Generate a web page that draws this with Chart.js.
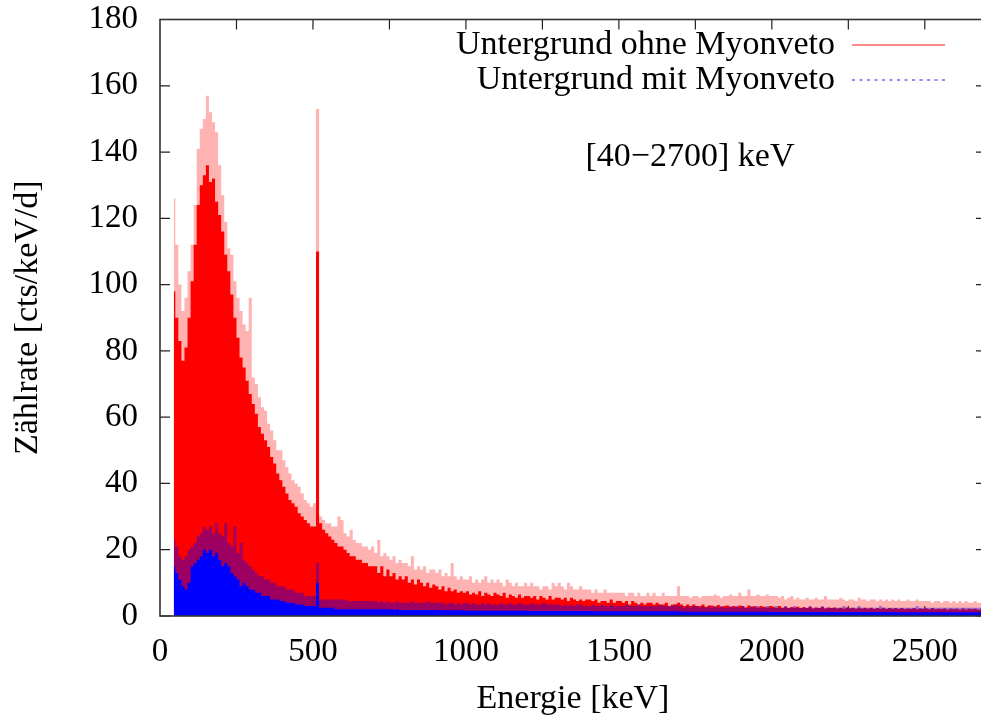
<!DOCTYPE html>
<html>
<head>
<meta charset="utf-8">
<script src="https://cdn.jsdelivr.net/npm/chart.js@4.4.0/dist/chart.umd.min.js"></script>
<style>
  html, body { margin: 0; padding: 0; overflow: hidden; background: #fff; }
</style>
</head>
<body>
<canvas id="spektrum" width="1000" height="720"></canvas>
<script>
// Untergrundspektrum, 10-keV-Bins von 40 bis 2700 keV
const binStart = 40;
const binWidth = 10;

const xTickValues = [0, 500, 1000, 1500, 2000, 2500];
const xFrameTicks = [250, 500, 750, 1000, 1250, 1500, 1750, 2000, 2250, 2500];
const yTickValues = [0, 20, 40, 60, 80, 100, 120, 140, 160, 180];

const seriesLabels = ['Untergrund ohne Myonveto', 'Untergrund mit Myonveto'];
const rangeNote = '[40\u22122700] keV';

// ohne Myonveto: dichter Kern
const redCore = [
  98, 90, 83, 77, 81, 90,                                   // 40
  101, 112, 124, 130, 133, 136, 131, 132, 125, 121,         // 100
  116, 109, 104, 97, 90, 84, 78, 75, 71, 67,                // 200
  64, 61, 57, 55, 53, 51, 48, 46, 43, 41,                   // 300
  39, 37, 35, 34, 33, 31, 30, 29, 28, 27,                   // 400
  27, 110, 28, 26, 25, 24, 23, 22, 21, 21,                  // 500
  20, 19, 18, 18, 17, 17, 16, 16, 15, 15,                   // 600
  15, 13, 15, 12, 14, 12, 13, 11, 12, 11,                   // 700
  12, 10, 11, 9.5, 11, 10, 9, 10, 8.5, 9.5,                 // 800
  9, 8, 9, 7.5, 8.5, 7.5, 8, 7, 7.5, 7,                     // 900
  7.5, 6.5, 7, 6.5, 7.5, 6, 7, 6.5, 6, 7,                   // 1000
  6.5, 6, 7, 5.5, 6.5, 6, 5.5, 6.5, 5.5, 6,                 // 1100
  6, 5.5, 6, 5, 6, 5.5, 5, 6, 5, 5.5,                       // 1200
  5.5, 5, 5.5, 4.5, 5.5, 5, 4.5, 5, 4.5, 5,                 // 1300
  5, 4.5, 5, 4, 4.5, 4.5, 4, 5, 4, 4.5,                     // 1400
  4.5, 4, 4.5, 3.5, 4.5, 4, 3.5, 4, 3.5, 4,                 // 1500
  4, 3.5, 4, 3.5, 3.5, 4, 3, 3.5, 3.5, 4,                   // 1600
  3.5, 3, 3.5, 3, 3.5, 3, 3, 3.5, 2.8, 3.2,                 // 1700
  3.2, 2.8, 3.3, 2.8, 3, 3.2, 2.7, 3, 2.8, 3.2,             // 1800
  3, 2.6, 3.2, 2.7, 3, 2.6, 3, 2.8, 2.6, 3,                 // 1900
  2.8, 2.5, 3, 2.5, 2.8, 2.4, 2.7, 2.5, 2.8, 2.4,           // 2000
  2.7, 2.4, 2.8, 2.3, 2.6, 2.4, 2.7, 2.3, 2.6, 2.4,         // 2100
  2.6, 2.3, 2.5, 2.2, 2.6, 2.3, 2.5, 2.2, 2.5, 2.3,         // 2200
  2.5, 2.2, 2.5, 2.1, 2.4, 2.2, 2.5, 2.1, 2.4, 2.2,         // 2300
  2.4, 2.1, 2.4, 2, 2.3, 2.1, 2.4, 2, 2.3, 2.1,             // 2400
  2.3, 2, 2.4, 2, 2.2, 2, 2.3, 1.9, 2.2, 2,                 // 2500
  2.2, 1.9, 2.3, 1.9, 2.2, 2, 2.2, 1.9, 2.1, 2              // 2600
];

// ohne Myonveto: einzelne Spitzen (heller Saum)
const redPeak = [
  126, 112, 100, 92, 96, 104,                               // 40
  112, 124, 141, 147, 150, 157, 152, 149, 146, 136,         // 100
  127, 119, 111, 109, 101, 96, 92, 88, 86, 96,              // 200
  72, 70, 66, 63, 62, 58, 56, 53, 50, 50,                   // 300
  47, 45, 43, 41, 40, 39, 37, 35, 34, 33,                   // 400
  34, 153, 30, 29, 28, 28, 27, 27, 30, 29,                  // 500
  25, 24, 26, 23, 22, 22, 21, 21, 20, 21,                   // 600
  19, 23, 18, 19, 18, 17, 18, 16, 17, 16,                   // 700
  16, 15, 18, 14, 15, 14, 15, 13, 14, 14,                   // 800
  13, 14, 12, 13, 12, 16, 12, 11, 12, 11,                   // 900
  11, 12, 10, 11, 10, 11, 12, 10, 11, 10,                   // 1000
  11, 10, 9, 11, 10, 9, 10, 9, 9, 10,                       // 1100
  9, 10, 9, 9, 8, 9, 9, 8, 10, 9,                           // 1200
  10, 9, 8, 10, 9, 8, 8, 9, 8, 8,                           // 1300
  8, 7, 8, 7, 7, 8, 7, 7, 7, 7,                             // 1400
  7, 7, 6, 7, 7, 6, 7, 6, 6, 7,                             // 1500
  6, 7, 6, 6, 7, 6, 6, 6, 6, 9,                             // 1600
  6, 6, 6, 5.5, 6, 6, 5.5, 6, 6, 6,                         // 1700
  6, 6.5, 6, 5.5, 6, 6, 6.5, 6, 6, 7,                       // 1800
  6, 6, 8, 6, 6, 6.5, 6, 6, 6.5, 6,                         // 1900
  6, 6, 5.5, 6, 5, 5.5, 6, 5, 5.5, 5,                       // 2000
  5, 5.5, 5, 5, 5.5, 5, 5, 6, 5, 5,                         // 2100
  5, 5, 5.5, 5, 4.5, 5, 5, 4.5, 5.5, 5,                     // 2200
  5, 4.5, 5, 5, 4.5, 5, 4.5, 5, 4.5, 5,                     // 2300
  4.5, 5, 4.5, 4.5, 5, 4.5, 4.5, 5, 4.5, 4.5,               // 2400
  4.5, 4.5, 4, 4.5, 4.5, 4, 4.5, 4.5, 4, 4.5,               // 2500
  4, 4.5, 4, 4.5, 4, 4, 4.5, 4, 4, 4                        // 2600
];

// mit Myonveto: dichter Kern
const blueCore = [
  15, 13, 11, 9, 8, 10,                                     // 40
  15, 16, 17, 18, 20, 19, 20, 18, 19, 17,                   // 100
  15, 16, 15, 13, 12, 11, 9, 10, 9, 8,                      // 200
  8, 7, 7, 6, 6, 6, 5, 5, 5, 4.5,                           // 300
  4.5, 4, 4, 4, 3.5, 3.5, 3.5, 3, 3, 3,                     // 400
  3, 10, 2.5, 2.5, 2.5, 2.5, 2.5, 2, 2, 2,                  // 500
  2, 2, 2, 2, 2, 2, 2, 2, 2, 2,                             // 600
  2, 2, 2, 2, 2, 2, 1.8, 2, 1.8, 1.8,                       // 700
  1.8, 1.8, 1.8, 1.8, 1.8, 1.8, 1.8, 1.8, 1.8, 1.8,         // 800
  1.8, 1.8, 1.7, 1.7, 1.7, 1.7, 1.7, 1.7, 1.7, 1.7,         // 900
  1.6, 1.6, 1.6, 1.6, 1.6, 1.6, 1.6, 1.6, 1.6, 1.6,         // 1000
  1.6, 1.6, 1.6, 1.6, 1.6, 1.6, 1.6, 1.6, 1.6, 1.6,         // 1100
  1.5, 1.5, 1.5, 1.5, 1.5, 1.5, 1.5, 1.5, 1.5, 1.5,         // 1200
  1.5, 1.5, 1.5, 1.5, 1.5, 1.5, 1.5, 1.5, 1.5, 1.5,         // 1300
  1.4, 1.4, 1.4, 1.4, 1.4, 1.4, 1.4, 1.4, 1.4, 1.4,         // 1400
  1.4, 1.4, 1.4, 1.4, 1.4, 1.4, 1.4, 1.4, 1.4, 1.4,         // 1500
  1.4, 1.4, 1.4, 1.4, 1.4, 1.4, 1.4, 1.4, 1.4, 1.4,         // 1600
  1.3, 1.3, 1.3, 1.3, 1.3, 1.3, 1.3, 1.3, 1.3, 1.3,         // 1700
  1.3, 1.3, 1.3, 1.3, 1.3, 1.3, 1.3, 1.3, 1.3, 1.3,         // 1800
  1.3, 1.3, 1.3, 1.3, 1.3, 1.3, 1.3, 1.3, 1.3, 1.3,         // 1900
  1.2, 1.2, 1.2, 1.2, 1.2, 1.2, 1.2, 1.2, 1.2, 1.2,         // 2000
  1.2, 1.2, 1.2, 1.2, 1.2, 1.2, 1.2, 1.2, 1.2, 1.2,         // 2100
  1.2, 1.2, 1.2, 1.2, 1.2, 1.2, 1.2, 1.2, 1.2, 1.2,         // 2200
  1.2, 1.2, 1.2, 1.2, 1.2, 1.2, 1.2, 1.2, 1.2, 1.2,         // 2300
  1.1, 1.1, 1.1, 1.1, 1.1, 1.1, 1.1, 1.1, 1.1, 1.1,         // 2400
  1.1, 1.1, 1.1, 1.1, 1.1, 1.1, 1.1, 1.1, 1.1, 1.1,         // 2500
  1.1, 1.1, 1.1, 1.1, 1.1, 1.1, 1.1, 1.1, 1.1, 1.1          // 2600
];

// mit Myonveto: einzelne Spitzen
const bluePeak = [
  23, 21, 18, 17, 18, 20,                                   // 40
  21, 22, 24, 25, 27, 26, 27, 25, 28, 25,                   // 100
  24, 28, 22, 21, 27, 19, 22, 17, 16, 15,                   // 200
  14, 13, 12, 12, 11, 11, 10, 10, 9, 9,                     // 300
  9, 8, 8, 8, 7, 7, 7, 6, 6, 6,                             // 400
  6, 16, 5, 5, 5, 5, 5, 5, 5, 5,                            // 500
  5, 4.5, 4.5, 4.5, 4.5, 4.5, 4.5, 4.5, 4.5, 4.5,           // 600
  4.5, 4, 4.5, 4, 4.5, 4, 4, 4.5, 4, 4,                     // 700
  4, 4, 4.5, 4, 4, 4, 4, 4.5, 4, 4,                         // 800
  4, 4, 4, 3.5, 4, 4, 3.5, 4, 3.5, 4,                       // 900
  4, 3.5, 4, 3.5, 3.5, 4, 3.5, 4, 3.5, 3.5,                 // 1000
  3.5, 4, 3.5, 3.5, 4, 3.5, 3.5, 4, 3.5, 3.5,               // 1100
  3.5, 4, 3.5, 3.5, 3.5, 4, 3.5, 3.5, 3.5, 3.5,             // 1200
  3.5, 3, 3.5, 3, 3.5, 3, 3.5, 3.5, 3, 3,                   // 1300
  3, 3.5, 3, 3, 3.5, 3, 3, 3.5, 3, 3,                       // 1400
  3, 3, 3.5, 3, 3, 3, 3.5, 3, 3, 3,                         // 1500
  3, 3, 3, 3.5, 3, 3, 3, 3, 3.5, 3,                         // 1600
  3, 2.5, 3, 2.5, 3, 3, 2.5, 3, 2.5, 3,                     // 1700
  2.5, 3, 2.5, 3, 2.5, 2.5, 3, 2.5, 3, 2.5,                 // 1800
  3, 2.5, 2.5, 3, 2.5, 3, 2.5, 2.5, 3, 2.5,                 // 1900
  2.5, 3, 2.5, 2.5, 3, 2.5, 2.5, 3, 2.5, 2.5,               // 2000
  2.5, 2.5, 3, 2.5, 2.5, 2.5, 3, 2.5, 2.5, 2.5,             // 2100
  2.5, 2.5, 2.5, 3, 2.5, 2.5, 2.5, 2.5, 3, 2.5,             // 2200
  2.5, 2.5, 2.5, 2.5, 2.5, 3, 2.5, 2.5, 2.5, 2.5,           // 2300
  2.5, 2.5, 2.5, 2.5, 2.5, 2.5, 2.5, 3, 2.5, 2.5,           // 2400
  2.5, 2.5, 2.5, 2.5, 2.5, 2.5, 2.5, 2.5, 2.5, 2.5,         // 2500
  2.5, 2.5, 2.5, 2.5, 2.5, 2.5, 2.5, 2.5, 2.5, 2.5          // 2600
];

const serif = "'Liberation Serif', 'DejaVu Serif', serif";
const tickFont = { family: serif, size: 33 };
const titleFont = { family: serif, size: 34 };

// Bin-Mitten als x-Koordinate
const toPoints = vals => vals.map((v, i) => ({ x: binStart + binWidth * (i + 0.5), y: v }));

const histo = (data, color) => ({
  data: toPoints(data),
  backgroundColor: color,
  borderColor: 'rgba(0,0,0,0)',
  borderWidth: 1,
  fill: 'origin',
  stepped: 'middle',
  pointRadius: 0,
});

// Rahmen mit Ticks nach innen (gnuplot-Stil), Legende und Bereichsangabe
const gnuplotFrame = {
  id: 'gnuplotFrame',
  beforeDatasetsDraw(chart) {
    const { ctx, chartArea: a, scales: { x, y } } = chart;
    ctx.save();
    ctx.strokeStyle = '#222';
    ctx.lineWidth = 1.2;
    ctx.beginPath();
    xFrameTicks.forEach(v => {
      const px = x.getPixelForValue(v);
      ctx.moveTo(px, a.top); ctx.lineTo(px, a.top + 10);
      ctx.moveTo(px, a.bottom); ctx.lineTo(px, a.bottom - 10);
    });
    yTickValues.forEach(v => {
      const py = y.getPixelForValue(v);
      ctx.moveTo(a.left, py); ctx.lineTo(a.left + 10, py);
      ctx.moveTo(a.right, py); ctx.lineTo(a.right - 10, py);
    });
    ctx.stroke();
    ctx.restore();
  },
  afterDraw(chart) {
    const { ctx, chartArea: a } = chart;
    ctx.save();
    ctx.strokeStyle = '#333';
    ctx.lineWidth = 1.6;
    ctx.strokeRect(a.left, a.top, a.right - a.left, a.bottom - a.top);

    ctx.fillStyle = '#000';
    ctx.font = `34px ${serif}`;
    ctx.textAlign = 'right';
    ctx.textBaseline = 'middle';
    ctx.fillText(seriesLabels[0], 835, 45);
    ctx.fillText(seriesLabels[1], 835, 80);

    ctx.lineWidth = 1.5;
    ctx.strokeStyle = 'rgba(255,60,60,0.8)';
    ctx.beginPath(); ctx.moveTo(852, 45); ctx.lineTo(945, 45); ctx.stroke();
    ctx.strokeStyle = '#8c8cff';
    ctx.lineWidth = 2;
    ctx.setLineDash([3, 4.5]);
    ctx.beginPath(); ctx.moveTo(852, 80); ctx.lineTo(945, 80); ctx.stroke();
    ctx.setLineDash([]);

    ctx.textAlign = 'center';
    ctx.fillText(rangeNote, 690, 157);
    ctx.restore();
  },
};

new Chart(document.getElementById('spektrum'), {
  type: 'line',
  data: {
    datasets: [
      histo(blueCore, '#0000ff'),
      histo(bluePeak, 'rgba(0,0,255,0.38)'),
      histo(redCore, '#ff0000'),
      histo(redPeak, 'rgba(255,0,0,0.3)'),
    ],
  },
  options: {
    responsive: false,
    animation: false,
    events: [],
    layout: { padding: { top: 19.5, right: 14, left: 0, bottom: 0 } },
    plugins: { legend: { display: false }, tooltip: { enabled: false } },
    scales: {
      x: {
        type: 'linear',
        min: 0,
        max: 2700,
        afterBuildTicks: s => { s.ticks = xTickValues.map(v => ({ value: v })); },
        afterFit: s => { s.height = 104; s.paddingLeft = 0; s.paddingRight = 0; },
        grid: { display: false, drawTicks: false },
        border: { display: false },
        ticks: { color: '#000', font: tickFont, padding: 17, maxRotation: 0, autoSkip: false, callback: v => String(v) },
        title: { display: true, text: 'Energie [keV]', color: '#000', font: titleFont, padding: { top: 0, bottom: 1 } },
      },
      y: {
        min: 0,
        max: 180,
        afterBuildTicks: s => { s.ticks = yTickValues.map(v => ({ value: v })); },
        afterFit: s => { s.width = 160; s.paddingTop = 0; s.paddingBottom = 0; },
        grid: { display: false, drawTicks: false },
        border: { display: false },
        ticks: { color: '#000', font: tickFont, padding: 22, callback: v => String(v) },
        title: { display: true, text: 'Zählrate [cts/keV/d]', color: '#000', font: titleFont, padding: { top: 8, bottom: 0 } },
      },
    },
  },
  plugins: [gnuplotFrame],
});
</script>
</body>
</html>
